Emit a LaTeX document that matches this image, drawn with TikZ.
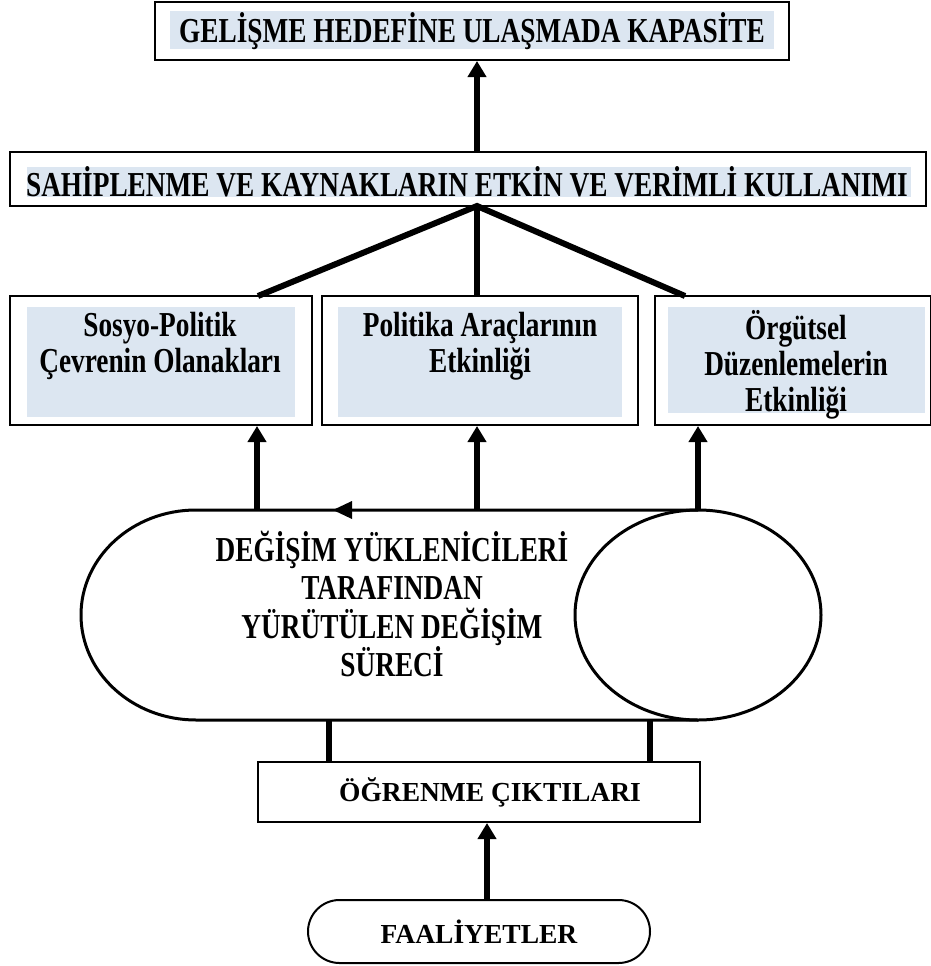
\documentclass[tikz,border=0pt]{standalone}
\usepackage{fontspec}
\setmainfont{Liberation Serif}
\newfontfamily\condf[FakeStretch=0.78]{Liberation Serif}
\usetikzlibrary{arrows.meta,shapes.misc}
\definecolor{paleblue}{HTML}{DCE6F1}
\tikzset{
  outerbox/.style={draw=black,line width=2pt,inner sep=0pt},
  innerfill/.style={fill=paleblue,draw=none,inner sep=0pt},
  ctext/.style={font=\condf\bfseries\fontsize{35}{36}\selectfont,align=center,inner sep=0pt},
  cyltext/.style={font=\condf\bfseries\fontsize{35}{38.5}\selectfont,align=center,inner sep=0pt},
  ntext/.style={font=\bfseries\fontsize{27.5}{30}\selectfont,align=center,inner sep=0pt},
  thick line/.style={line width=6pt},
  arr/.style={line width=6pt,-{Triangle[length=16pt,width=18pt]}},
}
\begin{document}
\begin{tikzpicture}[x=1pt,y=-1pt]
\useasboundingbox (0,0) rectangle (931,966);
% top box
\node[innerfill,minimum width=604pt,minimum height=38pt] (topin) at (472,30) {};
\node[outerbox,minimum width=634pt,minimum height=58pt] (top) at (472,31) {};
\node[ctext] (toptext) at (472,31) {GELİŞME HEDEFİNE ULAŞMADA KAPASİTE};
% second box
\node[innerfill,minimum width=884pt,minimum height=30pt] (sahin) at (469,182) {};
\node[outerbox,minimum width=916pt,minimum height=54pt] (sah) at (468,179) {};
\node[ctext] (sahtext) at (467,182) {SAHİPLENME VE KAYNAKLARIN ETKİN VE VERİMLİ KULLANIMI};
% hub and arrow up
\coordinate (hub) at (477,206);
\draw[arr] (hub |- sah.north) -- (hub |- top.south);
% three boxes
\node[innerfill,minimum width=268pt,minimum height=110pt] (b1in) at (161,362) {};
\node[outerbox,minimum width=302pt,minimum height=129pt] (b1) at (161,360.5) {};
\node[innerfill,minimum width=284pt,minimum height=110pt] (b2in) at (480,362) {};
\node[outerbox,minimum width=316pt,minimum height=129pt] (b2) at (480,360.5) {};
\node[innerfill,minimum width=257pt,minimum height=106pt] (b3in) at (796.5,360) {};
\node[outerbox,minimum width=276pt,minimum height=129pt] (b3) at (793,360.5) {};
\node[ctext,anchor=north] (t1) at (160,312) {Sosyo-Politik\\Çevrenin Olanakları};
\node[ctext,anchor=north] (t2) at (480,312) {Politika Araçlarının\\Etkinliği};
\node[ctext,anchor=north] (t3) at (796,310) {Örgütsel\\Düzenlemelerin\\Etkinliği};
% lines from hub
\coordinate (c1) at (258,296);
\coordinate (c2) at (477,296);
\coordinate (c3) at (685,296);
\draw[thick line] (c1) -- (hub) -- (c3);
\draw[thick line] (hub) -- (c2);
% cylinder
\coordinate (cl) at (196,615);
\coordinate (cr) at (698,615);
\draw[line width=3pt,fill=white] (698,510) -- (196,510) arc[start angle=90,end angle=270,x radius=115,y radius=-105] -- (698,720);
\draw[line width=3pt] (cr) ellipse[x radius=123,y radius=105];
\fill (333,510) -- (352,501) -- (352,519) -- cycle;
\node[cyltext] (cyltext) at (392,604) {DEĞİŞİM YÜKLENİCİLERİ\\TARAFINDAN\\YÜRÜTÜLEN DEĞİŞİM\\SÜRECİ};
% arrows up from cylinder
\coordinate (u1) at (257,510);
\coordinate (u2) at (477,510);
\coordinate (u3) at (698,510);
\draw[arr] (u1) -- (u1 |- b1.south);
\draw[arr] (u2) -- (u2 |- b2.south);
\draw[arr] (u3) -- (u3 |- b3.south);
% ogrenme box
\node[outerbox,minimum width=442pt,minimum height=60pt] (ogr) at (479,792) {};
\node[ntext] (ogrtext) at (490,792) {ÖĞRENME ÇIKTILARI};
\coordinate (d1) at (329,720);
\coordinate (d2) at (650,720);
\draw[thick line] (d1) -- (d1 |- ogr.north);
\draw[thick line] (d2) -- (d2 |- ogr.north);
% faaliyetler
\node[draw,line width=2pt,rounded rectangle,minimum width=342pt,minimum height=63pt,inner sep=0pt] (faal) at (479,931.5) {};
\node[ntext] (faaltext) at (479,932) {FAALİYETLER};
\coordinate (fa) at (487,900);
\draw[arr] (fa) -- (fa |- ogr.south);
\end{tikzpicture}
\end{document}
